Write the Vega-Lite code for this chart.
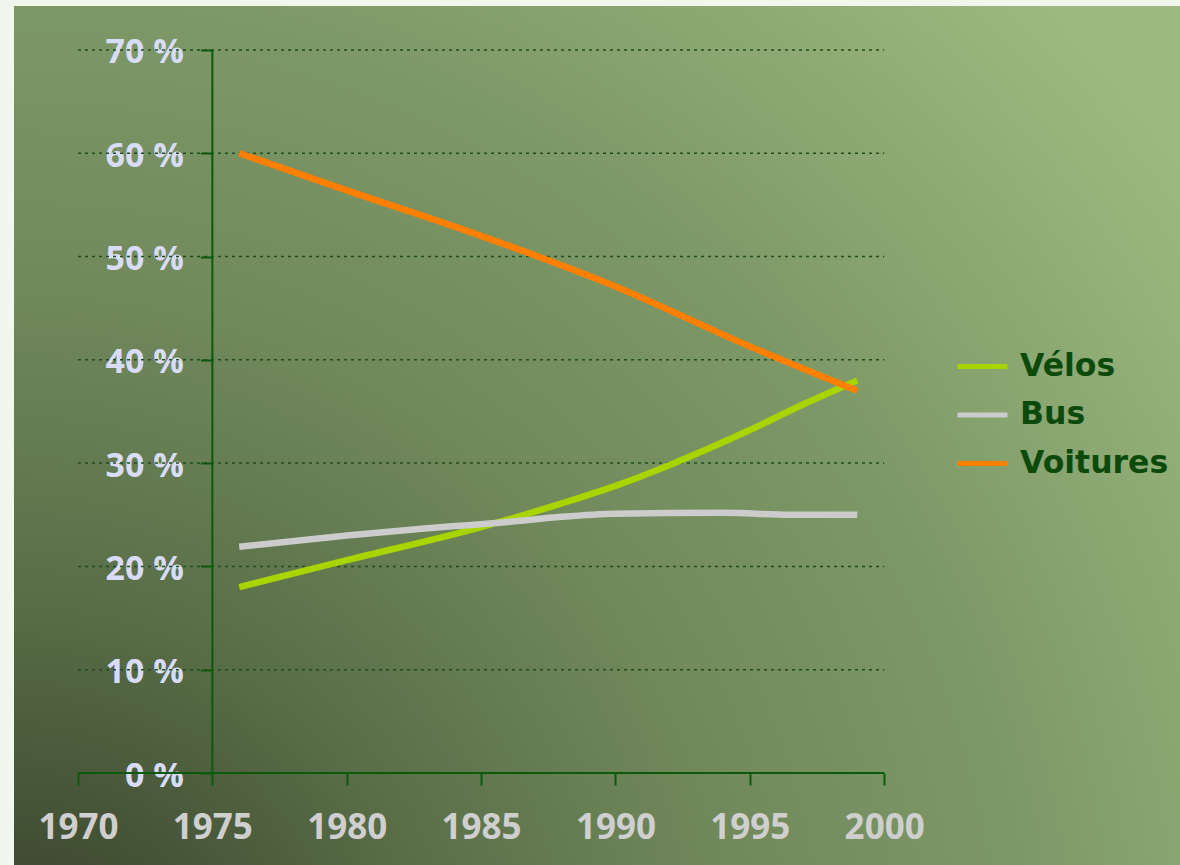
{
  "$schema": "https://vega.github.io/schema/vega-lite/v6.json",
  "width": 1180,
  "height": 865,
  "autosize": {"type": "fit", "contains": "padding"},
  "padding": {"left": 14, "top": 6, "right": 0, "bottom": 0},
  "background": "#f2f7ed",
  "config": {
    "view": {
      "stroke": null,
      "fill": {
        "gradient": "radial",
        "x1": 0, "y1": 1, "r1": 0,
        "x2": 0, "y2": 1, "r2": 1.242,
        "stops": [
          {"offset": 0, "color": "#313926"},
          {"offset": 0.3, "color": "#5a6f48"},
          {"offset": 0.5, "color": "#71885b"},
          {"offset": 0.7, "color": "#7d9867"},
          {"offset": 1, "color": "#9cba7f"}
        ]
      }
    },
    "font": "Open Sans"
  },
  "layer": [
    {
      "data": {"values": [{"g": 10}, {"g": 20}, {"g": 30}, {"g": 40}, {"g": 50}, {"g": 60}, {"g": 70}]},
      "mark": {"type": "rule", "color": "#1d4d1d", "strokeDash": [3, 4], "strokeWidth": 1.5},
      "encoding": {
        "y": {"field": "g", "type": "quantitative", "scale": {"domain": [-8.906, 74.25], "nice": false, "zero": false}},
        "x": {"datum": 1970, "type": "quantitative", "scale": {"domain": [1967.618, 2011.01], "nice": false, "zero": false}},
        "x2": {"datum": 2000}
      }
    },
    {
      "data": {"values": [{}]},
      "mark": {"type": "rule", "color": "#0b5a0b", "strokeWidth": 2},
      "encoding": {
        "x": {"datum": 1970, "type": "quantitative"},
        "x2": {"datum": 2000},
        "y": {"datum": 0, "type": "quantitative"}
      }
    },
    {
      "data": {"values": [{}]},
      "mark": {"type": "rule", "color": "#0b5a0b", "strokeWidth": 2},
      "encoding": {
        "x": {"datum": 1975, "type": "quantitative"},
        "y": {"datum": 0, "type": "quantitative"},
        "y2": {"datum": 70}
      }
    },
    {
      "data": {
        "values": [
          {"mode": "Vélos", "year": 1976, "share": 18.0},
          {"mode": "Vélos", "year": 1980, "share": 20.6},
          {"mode": "Vélos", "year": 1985, "share": 23.8},
          {"mode": "Vélos", "year": 1988, "share": 26.1},
          {"mode": "Vélos", "year": 1990, "share": 27.8},
          {"mode": "Vélos", "year": 1992, "share": 29.8},
          {"mode": "Vélos", "year": 1995, "share": 33.2},
          {"mode": "Vélos", "year": 1997, "share": 35.7},
          {"mode": "Vélos", "year": 1999, "share": 38.0},
          {"mode": "Bus", "year": 1976, "share": 21.9},
          {"mode": "Bus", "year": 1980, "share": 23.0},
          {"mode": "Bus", "year": 1983, "share": 23.7},
          {"mode": "Bus", "year": 1986, "share": 24.3},
          {"mode": "Bus", "year": 1988, "share": 24.8},
          {"mode": "Bus", "year": 1990, "share": 25.1},
          {"mode": "Bus", "year": 1994, "share": 25.2},
          {"mode": "Bus", "year": 1996.5, "share": 25.0},
          {"mode": "Bus", "year": 1999, "share": 25.0},
          {"mode": "Voitures", "year": 1976, "share": 60.0},
          {"mode": "Voitures", "year": 1980, "share": 56.4},
          {"mode": "Voitures", "year": 1985, "share": 52.0},
          {"mode": "Voitures", "year": 1990, "share": 47.1},
          {"mode": "Voitures", "year": 1995, "share": 41.3},
          {"mode": "Voitures", "year": 1999, "share": 37.0}
        ]
      },
      "mark": {"type": "line", "strokeWidth": 6.5, "strokeCap": "butt", "interpolate": "monotone"},
      "encoding": {
        "x": {
          "field": "year", "type": "quantitative",
          "scale": {"domain": [1967.618, 2011.01], "nice": false, "zero": false},
          "axis": {
            "title": null, "values": [1970, 1975, 1980, 1985, 1990, 1995, 2000], "format": "d",
            "offset": -92, "domain": false, "grid": false,
            "tickColor": "#0b5a0b", "tickWidth": 2, "tickSize": 12,
            "labelFont": "Open Sans", "labelFontSize": 35, "labelFontWeight": "bold",
            "labelColor": "#cfcfcf", "labelPadding": 25, "labelOverlap": false, "labelFlush": false
          }
        },
        "y": {
          "field": "share", "type": "quantitative",
          "scale": {"domain": [-8.906, 74.25], "nice": false, "zero": false},
          "axis": {
            "title": null, "values": [0, 10, 20, 30, 40, 50, 60, 70],
            "labelExpr": "datum.value + ' %'",
            "offset": -198.4, "domain": false, "grid": false,
            "tickColor": "#0b5a0b", "tickWidth": 2, "tickSize": 12,
            "labelFont": "Open Sans", "labelFontSize": 34, "labelFontWeight": "bold",
            "labelColor": "#d9dcf6", "labelPadding": 17, "labelOffset": 3, "labelOverlap": false, "labelFlush": false
          }
        },
        "color": {
          "field": "mode", "type": "nominal",
          "scale": {"domain": ["Vélos", "Bus", "Voitures"], "range": ["#a8d400", "#cccccc", "#ff7f00"]},
          "legend": {
            "title": null, "orient": "none", "legendX": 941, "legendY": 333,
            "symbolType": "stroke", "symbolSize": 2500, "symbolStrokeWidth": 5,
            "labelFont": "DejaVu Sans", "labelFontSize": 31.5, "labelFontWeight": "bold",
            "labelColor": "#0c4a0c", "labelOffset": 10, "rowPadding": 5.5, "padding": 0
          }
        }
      }
    }
  ]
}
